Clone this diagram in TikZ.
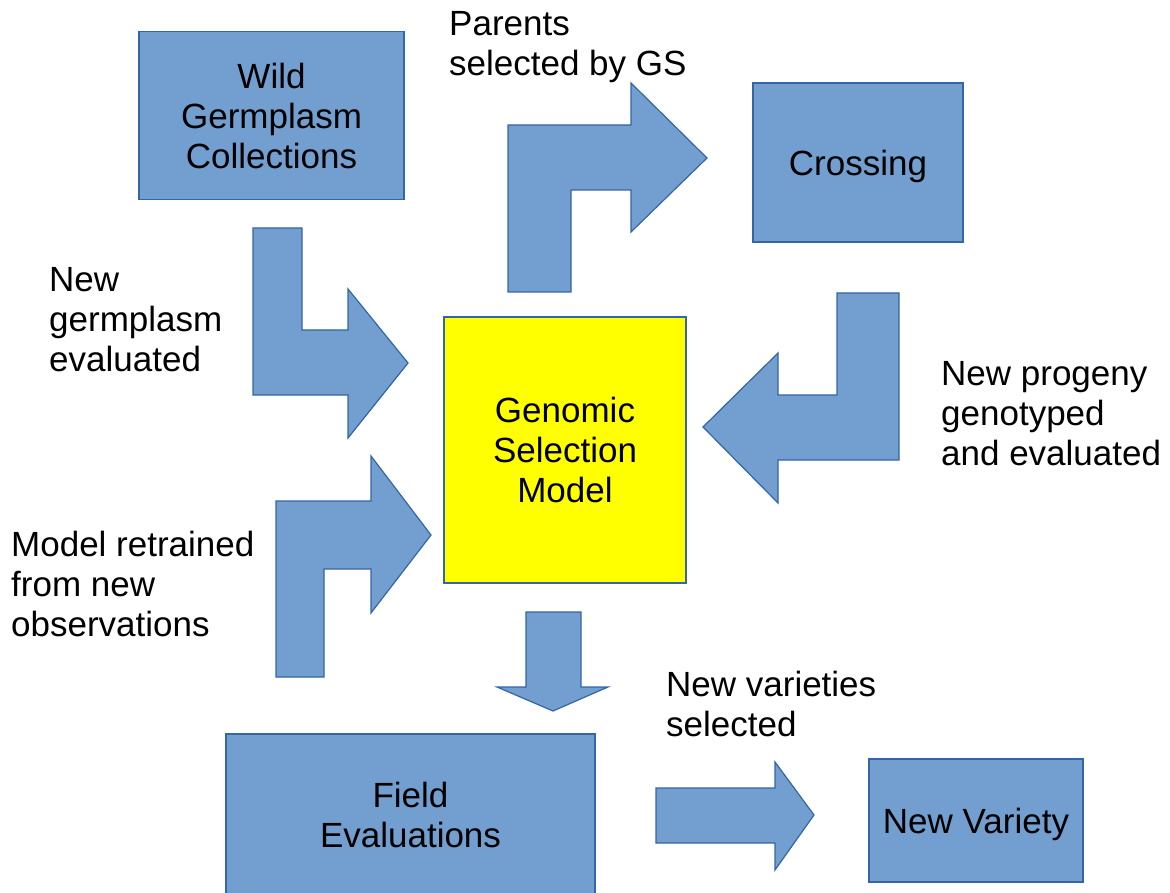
\documentclass[tikz,border=0pt]{standalone}
\usepackage{fontspec}
\setmainfont{Liberation Sans}
\definecolor{lofill}{HTML}{729FCF}
\definecolor{loline}{HTML}{3465A4}
\definecolor{loyellow}{HTML}{FFFF00}
\begin{document}
\begin{tikzpicture}[x=1pt,y=-1pt,
  bigfont/.style={font=\fontsize{35}{40}\selectfont},
  boxshape/.style={draw=loline,line width=1.2pt,fill=lofill,inner sep=0pt,align=center,bigfont},
  blockarrow/.style={draw=loline,line width=1.2pt,fill=lofill,line join=miter},
  lbl/.style={align=left,anchor=north west,inner sep=0pt,bigfont}]
\useasboundingbox (0,0) rectangle (1170,893);
% boxes
\node[boxshape,minimum width=265pt,minimum height=168pt] (wild) at (271.5,115.5) {Wild\\Germplasm\\Collections};
\node[boxshape,minimum width=210pt,minimum height=159pt,text depth=0pt] (crossing) at (858,162.5) {Crossing};
\node[boxshape,fill=loyellow,minimum width=242pt,minimum height=266pt] (gsm) at (565,450) {Genomic\\Selection\\Model};
\node[boxshape,minimum width=369pt,minimum height=162pt] (field) at (410.5,815) {Field\\Evaluations};
\node[boxshape,minimum width=214pt,minimum height=123pt,text depth=0pt] (variety) at (976,820.5) {New Variety};
% block arrows
\draw[blockarrow] (253,228) -- (302,228) -- (302,330) -- (348,330) -- (348,289) -- (408,363) -- (348,438) -- (348,395) -- (253,395) -- cycle;
\draw[blockarrow] (508,292) -- (508,125) -- (631,125) -- (631,83) -- (707,158) -- (631,232) -- (631,190) -- (571,190) -- (571,292) -- cycle;
\draw[blockarrow] (837,293) -- (899,293) -- (899,460) -- (778,460) -- (778,503) -- (703,427) -- (778,353) -- (778,395) -- (837,395) -- cycle;
\draw[blockarrow] (276,677) -- (276,501) -- (371,501) -- (371,456) -- (431,535) -- (371,613) -- (371,569) -- (324,569) -- (324,677) -- cycle;
\draw[blockarrow] (526,612) -- (581,612) -- (581,687) -- (608,687) -- (553,711) -- (497,687) -- (526,687) -- cycle;
\draw[blockarrow] (656,788) -- (775,788) -- (775,762) -- (814,815) -- (775,870) -- (775,843) -- (656,843) -- cycle;
% labels
\node[lbl] (lparents) at (449,11) {Parents\\selected by GS};
\node[lbl] (lgerm) at (49,267) {New\\germplasm\\evaluated};
\node[lbl] (lprog) at (941,361) {New progeny\\genotyped\\and evaluated};
\node[lbl] (lmodel) at (11,531) {Model retrained\\from new\\observations};
\node[lbl] (lvar) at (666,671) {New varieties\\selected};
\end{tikzpicture}
\end{document}
